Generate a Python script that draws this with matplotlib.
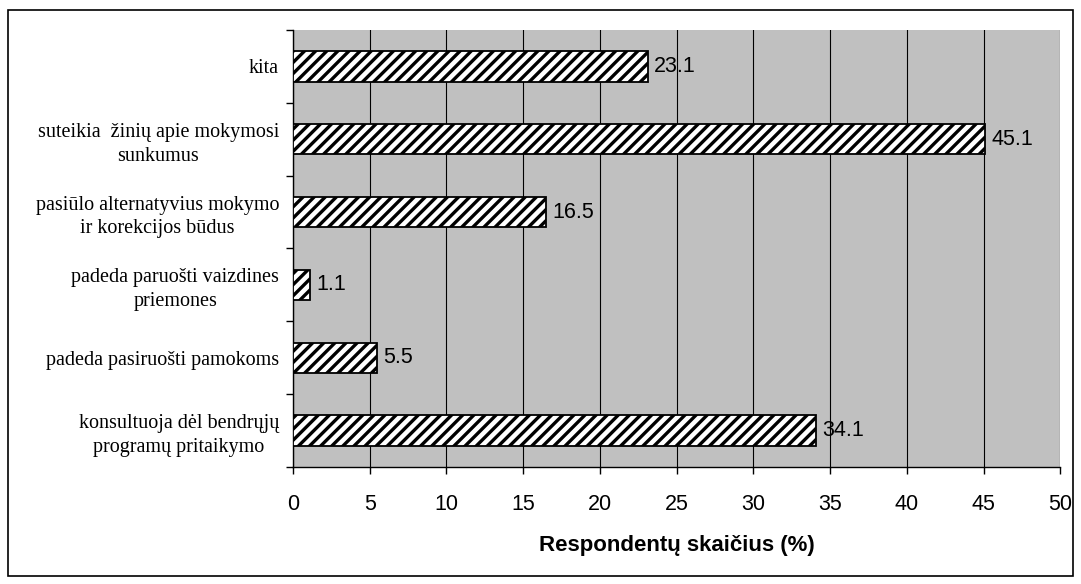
import matplotlib
matplotlib.use('Agg')
import matplotlib.pyplot as plt
from matplotlib.patches import Rectangle
import numpy as np

# categories bottom -> top
categories = ['konsultuoja dėl bendrųjų\nprogramų pritaikymo',
              'padeda pasiruošti pamokoms',
              'padeda paruošti vaizdines\npriemones',
              'pasiūlo alternatyvius mokymo\nir korekcijos būdus',
              'suteikia  žinių apie mokymosi\nsunkumus',
              'kita']
values = [34.1, 5.5, 1.1, 16.5, 45.1, 23.1]
x_ticks = [0, 5, 10, 15, 20, 25, 30, 35, 40, 45, 50]

plt.rcParams['hatch.linewidth'] = 2.4

fig = plt.figure(figsize=(10.81, 5.84), dpi=100)
ax = fig.add_axes([0.271, 0.200, 0.710, 0.749])
ax.set_facecolor('#c0c0c0')

pos = np.arange(len(categories))
bars = ax.barh(pos, values, height=0.42, color='white', edgecolor='black',
               hatch='///', linewidth=1.3, zorder=3)
for b, v in zip(bars, values):
    ax.text(v + 0.4, b.get_y() + b.get_height() / 2, f'{v:.1f}',
            va='center', ha='left', fontsize=15.5, family='Liberation Sans')

ax.set_xlim(0, 50)
ax.set_ylim(-0.5, len(categories) - 0.5)
ax.set_xticks(x_ticks)
ax.set_xticklabels([str(t) for t in x_ticks], family='Liberation Sans', fontsize=15.5)
ax.xaxis.grid(True, color='black', linewidth=0.8, zorder=1)
ax.set_axisbelow(True)

ax.set_yticks(pos)
ax.set_yticklabels(categories, family='Liberation Serif', fontsize=14.5,
                   ha='right', multialignment='center', linespacing=1.35)
ax.tick_params(axis='y', length=0, pad=10)
ax.set_yticks(np.arange(-0.5, len(categories)), minor=True)
ax.tick_params(axis='y', which='minor', length=5, width=1)
ax.tick_params(axis='x', length=5, width=1, pad=14)

ax.set_xlabel('Respondentų skaičius (%)', family='Liberation Sans',
              fontsize=16, fontweight='bold', labelpad=15)

for side in ['top', 'right']:
    ax.spines[side].set_visible(False)
for side in ['left', 'bottom']:
    ax.spines[side].set_linewidth(1)

fig.patches.append(Rectangle((8 / 1081, 8 / 584), 1 - 16 / 1081, 1 - 18 / 584,
                             transform=fig.transFigure, fill=False,
                             edgecolor='black', linewidth=1.2))

fig.savefig('out.png', dpi=100)
